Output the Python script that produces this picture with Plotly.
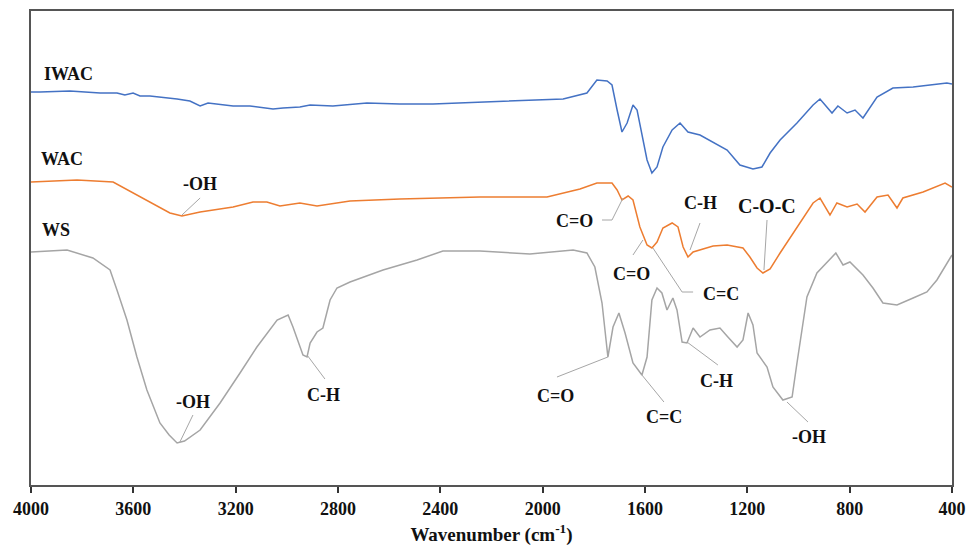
import plotly.graph_objects as go

# ---- data (wavenumber cm-1, transmittance a.u.) ----
iwac_wn = [4000, 3965, 3848, 3730, 3664, 3633, 3601, 3574, 3535, 3496, 3429, 3379, 3339, 3308, 3273,
           3210, 3144, 3054, 3015, 2949, 2909, 2820, 2687, 2558, 2429, 2245, 1920, 1827, 1788, 1748,
           1729, 1709, 1690, 1670, 1647, 1631, 1612, 1592, 1573, 1553, 1530, 1494, 1463, 1432, 1385,
           1334, 1279, 1229, 1178, 1143, 1111, 1072, 1006, 943, 916, 869, 846, 810, 779, 748, 693,
           631, 552, 486, 420, 400]
iwac_t = [393, 393, 394, 392, 392, 390, 392, 389, 389, 388, 386, 384, 379, 382, 381,
          379, 379, 376, 377, 378, 380, 379, 382, 381, 381, 383, 386, 392, 405, 404,
          400, 375, 353, 362, 380, 375, 352, 325, 312, 318, 338, 355, 362, 353, 350,
          343, 335, 320, 316, 318, 332, 345, 362, 380, 386, 372, 379, 372, 375, 367, 388,
          397, 398, 400, 402, 401]

wac_wn = [4000, 3820, 3679, 3601, 3535, 3457, 3410, 3339, 3210, 3132, 3078, 3027, 2949, 2882, 2753,
          2558, 2245, 1983, 1854, 1788, 1729, 1709, 1690, 1666, 1647, 1620, 1592, 1573, 1553, 1530,
          1494, 1471, 1451, 1432, 1412, 1334, 1279, 1217, 1190, 1162, 1139, 1111, 1072, 994, 943,
          916, 877, 850, 810, 771, 740, 693, 650, 615, 592, 513, 427, 400]
wac_t = [303, 305, 303, 292, 283, 272, 269, 273, 278, 283, 283, 279, 282, 279, 284,
         286, 288, 288, 296, 302, 302, 295, 285, 289, 285, 258, 240, 237, 243, 257,
         262, 258, 238, 228, 233, 239, 240, 237, 228, 217, 212, 216, 232, 262, 282,
         287, 270, 282, 278, 281, 273, 288, 290, 277, 287, 293, 302, 298]

ws_wn = [4000, 3859, 3758, 3691, 3664, 3625, 3586, 3547, 3496, 3460, 3429, 3400, 3339, 3261, 3183,
         3117, 3038, 2995, 2976, 2937, 2921, 2909, 2882, 2859, 2843, 2831, 2804, 2753, 2624, 2491,
         2390, 2245, 2050, 1881, 1827, 1796, 1768, 1749, 1745, 1725, 1702, 1678, 1647, 1612, 1592,
         1573, 1553, 1534, 1514, 1491, 1475, 1455, 1436, 1412, 1385, 1346, 1307, 1276, 1240, 1217,
         1197, 1178, 1162, 1123, 1100, 1061, 1025, 1006, 967, 928, 889, 854, 826, 799, 748, 709,
         670, 615, 552, 498, 459, 420, 400]
ws_t = [233, 235, 227, 215, 195, 165, 128, 95, 62, 50, 42, 44, 55, 82, 112,
        138, 165, 170, 158, 130, 128, 142, 153, 157, 173, 185, 197, 203, 215, 225,
        234, 234, 231, 235, 232, 218, 182, 132, 128, 158, 172, 152, 122, 110, 128,
        185, 197, 192, 175, 187, 175, 143, 142, 157, 148, 155, 157, 148, 138, 145,
        172, 160, 132, 118, 98, 85, 88, 122, 188, 212, 222, 232, 220, 223, 210, 197,
        182, 180, 187, 193, 205, 222, 230]

x_ticks = [4000, 3600, 3200, 2800, 2400, 2000, 1600, 1200, 800, 400]

series_names = ["IWAC", "WAC", "WS"]
series_label_pos = [(3957, 411), (3969, 326), (3965, 255)]

# band labels: text, text position, leader line path
band_labels = [
    ("-OH",   (3339, 301), [(3339, 287), (3410, 270)]),
    ("C=O",   (1874, 264), [(1768, 265), (1729, 265), (1686, 287)]),
    ("C=O",   (1651, 211), [(1647, 230), (1608, 245)]),
    ("C=C",   (1303, 191), [(1569, 237), (1455, 193), (1412, 193)]),
    ("C-H",   (1385, 282), [(1385, 262), (1424, 235)]),
    ("C-O-C", (1123, 279), [(1123, 265), (1135, 215)]),
    ("-OH",   (3367, 83),  [(3367, 70), (3418, 43)]),
    ("C-H",   (2855, 90),  [(2851, 106), (2921, 130)]),
    ("C=O",   (1948, 89),  [(1944, 108), (1745, 128)]),
    ("C=C",   (1526, 68),  [(1526, 83), (1612, 110)]),
    ("C-H",   (1319, 104), [(1315, 120), (1436, 143)]),
    ("-OH",   (959, 48),   [(963, 63), (1045, 83)]),
]

colors = ["#4472C4", "#ED7D31", "#A5A5A5"]
FONT = "Liberation Serif, Times New Roman, serif"

fig = go.Figure()
for wn, t, name, c in zip([iwac_wn, wac_wn, ws_wn], [iwac_t, wac_t, ws_t], series_names, colors):
    fig.add_trace(go.Scatter(x=wn, y=t, mode="lines", name=name,
                             line=dict(color=c, width=1.5), showlegend=False))

annotations = []
for name, (x, y) in zip(series_names, series_label_pos):
    annotations.append(dict(x=x, y=y, text="<b>%s</b>" % name, showarrow=False,
                            xanchor="left", yanchor="middle",
                            font=dict(family=FONT, size=18, color="#111")))

shapes = []
for text, (tx, ty), path in band_labels:
    annotations.append(dict(x=tx, y=ty, text="<b>%s</b>" % text, showarrow=False,
                            xanchor="center", yanchor="middle",
                            font=dict(family=FONT, size=20 if text == "C-O-C" else 18, color="#111")))
    d = "M %s,%s " % path[0] + " ".join("L %s,%s" % p for p in path[1:])
    shapes.append(dict(type="path", path=d, xref="x", yref="y",
                       line=dict(color="#A6A6A6", width=1)))

fig.update_layout(
    width=967, height=548,
    margin=dict(l=31, r=15, t=11, b=63, autoexpand=False),
    paper_bgcolor="white", plot_bgcolor="white",
    font=dict(family=FONT, size=18, color="#111"),
    annotations=annotations, shapes=shapes,
    xaxis=dict(range=[4000, 400], tickvals=x_ticks,
               ticktext=["<b>%d</b>" % v for v in x_ticks],
               showgrid=False, zeroline=False, automargin=False,
               showline=True, linecolor="#555", linewidth=2, mirror=True,
               ticks="outside", ticklen=6, tickcolor="#333", tickwidth=1.5,
               title=dict(text="<b>Wavenumber (cm<sup>-1</sup>)</b>", font=dict(size=19), standoff=10)),
    yaxis=dict(range=[0, 474], showticklabels=False, showgrid=False, zeroline=False, automargin=False,
               showline=True, linecolor="#555", linewidth=2, mirror=True, ticks=""),
)

fig.write_html("out.html")
